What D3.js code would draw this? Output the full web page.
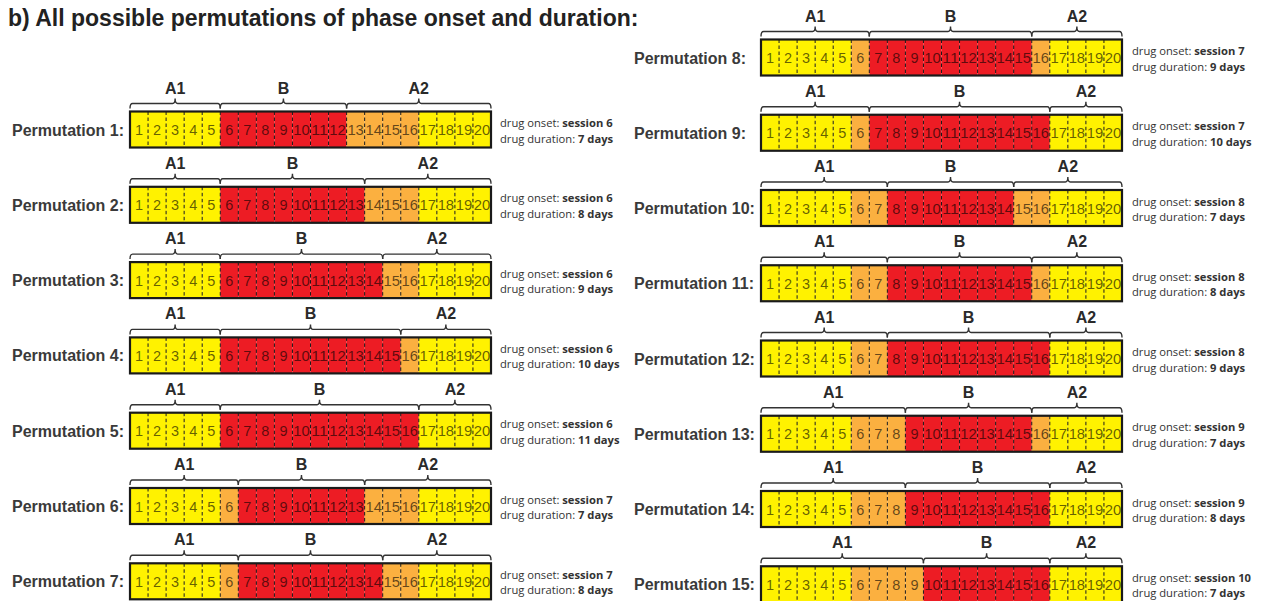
<!DOCTYPE html>
<html>
<head>
<meta charset="utf-8">
<script src="https://cdn.jsdelivr.net/npm/d3@7"></script>
<style>
  html, body { margin: 0; padding: 0; background: #fff; }
  svg { display: block; }
</style>
</head>
<body>
<svg id="chart" width="1269" height="601"></svg>
<script>
// ---------------- data ----------------
const titleText = "b) All possible permutations of phase onset and duration:";
const permutations = [1, 2, 3, 4, 5, 6, 7, 8, 9, 10, 11, 12, 13, 14, 15];
const drugOnsets =   [6, 6, 6, 6, 6, 7, 7, 7, 7, 8, 8, 8, 9, 9, 10];
const drugDurations = [7, 8, 9, 10, 11, 7, 8, 9, 10, 7, 8, 9, 7, 8, 7];
const sessions = [1, 2, 3, 4, 5, 6, 7, 8, 9, 10, 11, 12, 13, 14, 15, 16, 17, 18, 19, 20];
const phaseLabels = ["A1", "B", "A2"];
// sessions in which the drug phase may fall (first/last possible session)
const possibleDrugWindow = [6, 16];
const leftColumnCount = 7;   // permutations 1-7 on left, 8-15 on right

// ---------------- styles ----------------
const colors = { baseline: "#FFF200", possible: "#FBB040", drug: "#ED1C24" };
const svg = d3.select("#chart");
const font = "'Liberation Sans', Arial, Helvetica, sans-serif";

svg.append("text")
  .attr("x", 8).attr("y", 26)
  .attr("font-family", font).attr("font-weight", "bold").attr("font-size", 23)
  .attr("fill", "#222")
  .text(titleText);

const columns = [
  { perms: permutations.slice(0, leftColumnCount), labelX: 12, x0: 130, x1: 491, y0: 111.5, step: 75.3, noteX: 500 },
  { perms: permutations.slice(leftColumnCount), labelX: 634, x0: 761, x1: 1122, y0: 39.5, step: 75.25, noteX: 1132 }
];
const barH = 36;

columns.forEach(col => {
  const x = d3.scaleLinear().domain([sessions[0], sessions[sessions.length - 1] + 1]).range([col.x0, col.x1]);
  const y = d3.scaleLinear().domain([0, col.perms.length - 1])
    .range([col.y0, col.y0 + col.step * (col.perms.length - 1)]);

  col.perms.forEach((p, i) => {
    const idx = permutations.indexOf(p);
    const onset = drugOnsets[idx];
    const dur = drugDurations[idx];
    const end = onset + dur - 1;
    const top = y(i);
    const g = svg.append("g");

    // row label
    g.append("text")
      .attr("x", col.labelX).attr("y", top + barH / 2 + 6)
      .attr("font-family", font).attr("font-weight", "bold").attr("font-size", 16)
      .attr("fill", "#3a3a3a")
      .text(`Permutation ${p}:`);

    // cells
    const cellColor = s => (s >= onset && s <= end) ? colors.drug
      : (s >= possibleDrugWindow[0] && s <= possibleDrugWindow[1]) ? colors.possible : colors.baseline;

    g.selectAll("rect.cell").data(sessions).join("rect")
      .attr("class", "cell")
      .attr("x", s => x(s)).attr("y", top)
      .attr("width", s => x(s + 1) - x(s)).attr("height", barH)
      .attr("fill", cellColor);

    // dashed separators
    g.selectAll("line.sep").data(sessions.slice(1)).join("line")
      .attr("class", "sep")
      .attr("x1", s => x(s)).attr("x2", s => x(s))
      .attr("y1", top).attr("y2", top + barH)
      .attr("stroke", "#1a1a1a").attr("stroke-width", 1)
      .attr("stroke-dasharray", "3.5,2.5");

    // numbers
    g.selectAll("text.num").data(sessions).join("text")
      .attr("class", "num")
      .attr("x", s => (x(s) + x(s + 1)) / 2).attr("y", top + barH / 2 + 5.5)
      .attr("text-anchor", "middle")
      .attr("font-family", font).attr("font-size", 14.5)
      .attr("fill", "#000").attr("fill-opacity", 0.62)
      .attr("textLength", s => s >= 10 ? 16.5 : null)
      .attr("lengthAdjust", "spacingAndGlyphs")
      .text(s => s);

    // outline
    g.append("rect")
      .attr("x", col.x0).attr("y", top)
      .attr("width", col.x1 - col.x0).attr("height", barH)
      .attr("fill", "none").attr("stroke", "#1a1a1a").attr("stroke-width", 2.2);

    // braces
    const segs = [
      [sessions[0], onset],
      [onset, end + 1],
      [end + 1, sessions[sessions.length - 1] + 1]
    ];
    const by = top - 8;
    segs.forEach((sg, k) => {
      const xa = x(sg[0]), xb = x(sg[1]), xm = (xa + xb) / 2;
      const r = 2.5;
      const path = `M${xa},${by + 5} Q${xa},${by} ${xa + r},${by} L${xm - r},${by} Q${xm},${by} ${xm},${by - 5} Q${xm},${by} ${xm + r},${by} L${xb - r},${by} Q${xb},${by} ${xb},${by + 5}`;
      g.append("path").attr("d", path)
        .attr("fill", "none").attr("stroke", "#333").attr("stroke-width", 1.4);
      g.append("text")
        .attr("x", xm).attr("y", top - 18)
        .attr("text-anchor", "middle")
        .attr("font-family", font).attr("font-weight", "bold").attr("font-size", 16)
        .attr("fill", "#2a2a2a")
        .text(phaseLabels[k]);
    });

    // notes
    const note1 = g.append("text")
      .attr("x", col.noteX).attr("y", top + 15.5)
      .attr("font-family", "'Open Sans', sans-serif").attr("font-size", 11.2).attr("fill", "#333");
    note1.append("tspan").text("drug onset: ");
    note1.append("tspan").attr("font-weight", "bold").text(`session ${onset}`);
    const note2 = g.append("text")
      .attr("x", col.noteX).attr("y", top + 31)
      .attr("font-family", "'Open Sans', sans-serif").attr("font-size", 11.2).attr("fill", "#333");
    note2.append("tspan").text("drug duration: ");
    note2.append("tspan").attr("font-weight", "bold").text(`${dur} days`);
  });
});
</script>
</body>
</html>
